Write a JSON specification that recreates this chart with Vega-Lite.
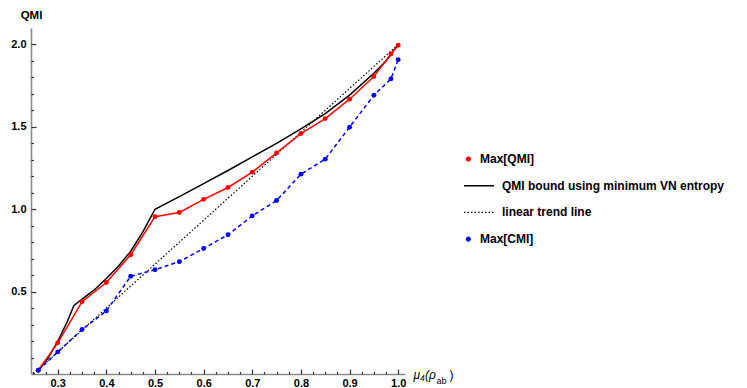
{
  "$schema": "https://vega.github.io/schema/vega-lite/v6.json",
  "width": 374,
  "height": 346,
  "autosize": "none",
  "padding": {"left": 31, "top": 28, "right": 342, "bottom": 14},
  "background": "white",
  "config": {"view": {"stroke": null}, "font": "Liberation Sans"},
  "datasets": {
    "trend": [
      {"mu": 0.25, "qmi": 0.0},
      {"mu": 1.0, "qmi": 2.0}
    ],
    "bound": [
      {"mu": 0.26, "qmi": 0.023},
      {"mu": 0.28, "qmi": 0.095},
      {"mu": 0.3, "qmi": 0.199},
      {"mu": 0.32, "qmi": 0.32},
      {"mu": 0.333, "qmi": 0.415},
      {"mu": 0.35, "qmi": 0.455},
      {"mu": 0.375, "qmi": 0.51},
      {"mu": 0.4, "qmi": 0.58},
      {"mu": 0.425, "qmi": 0.655},
      {"mu": 0.45, "qmi": 0.745},
      {"mu": 0.475, "qmi": 0.862},
      {"mu": 0.5, "qmi": 1.0},
      {"mu": 0.55, "qmi": 1.077},
      {"mu": 0.6, "qmi": 1.155},
      {"mu": 0.65, "qmi": 1.235},
      {"mu": 0.7, "qmi": 1.318},
      {"mu": 0.75, "qmi": 1.4},
      {"mu": 0.8, "qmi": 1.488},
      {"mu": 0.85, "qmi": 1.58},
      {"mu": 0.9, "qmi": 1.693},
      {"mu": 0.95, "qmi": 1.825},
      {"mu": 0.975, "qmi": 1.9},
      {"mu": 1.0, "qmi": 2.0}
    ],
    "maxqmi": [
      {"mu": 0.26, "qmi": 0.023},
      {"mu": 0.3, "qmi": 0.189},
      {"mu": 0.35, "qmi": 0.439},
      {"mu": 0.4, "qmi": 0.555},
      {"mu": 0.45, "qmi": 0.724},
      {"mu": 0.5, "qmi": 0.955},
      {"mu": 0.55, "qmi": 0.98},
      {"mu": 0.6, "qmi": 1.06},
      {"mu": 0.65, "qmi": 1.132},
      {"mu": 0.7, "qmi": 1.225},
      {"mu": 0.75, "qmi": 1.342},
      {"mu": 0.8, "qmi": 1.459},
      {"mu": 0.85, "qmi": 1.55},
      {"mu": 0.9, "qmi": 1.668},
      {"mu": 0.95, "qmi": 1.805},
      {"mu": 0.985, "qmi": 1.942},
      {"mu": 1.0, "qmi": 1.995}
    ],
    "maxcmi": [
      {"mu": 0.26, "qmi": 0.023},
      {"mu": 0.3, "qmi": 0.134},
      {"mu": 0.35, "qmi": 0.27},
      {"mu": 0.4, "qmi": 0.383},
      {"mu": 0.45, "qmi": 0.593},
      {"mu": 0.5, "qmi": 0.633},
      {"mu": 0.55, "qmi": 0.682},
      {"mu": 0.6, "qmi": 0.762},
      {"mu": 0.65, "qmi": 0.845},
      {"mu": 0.7, "qmi": 0.96},
      {"mu": 0.75, "qmi": 1.053},
      {"mu": 0.8, "qmi": 1.213},
      {"mu": 0.85, "qmi": 1.304},
      {"mu": 0.9, "qmi": 1.498},
      {"mu": 0.95, "qmi": 1.692},
      {"mu": 0.985, "qmi": 1.791},
      {"mu": 1.0, "qmi": 1.908}
    ]
  },
  "layer": [
    {
      "data": {"name": "trend"},
      "mark": {"type": "line", "strokeWidth": 1.2, "strokeDash": [1.5, 2]},
      "encoding": {
        "x": {
          "field": "mu", "type": "quantitative",
          "scale": {"domain": [0.245, 1.014], "nice": false, "zero": false},
          "axis": {
            "orient": "bottom",
            "values": [0.3, 0.4, 0.5, 0.6, 0.7, 0.8, 0.9, 1.0],
            "format": ".1f",
            "labelOverlap": false,
            "labelFlush": false,
            "labelFont": "Liberation Sans",
            "labelFontSize": 11,
            "labelFontWeight": "bold",
            "labelColor": "#000000",
            "labelPadding": 3,
            "grid": false,
            "domainColor": "#8a8a8a",
            "domainWidth": 1.6,
            "ticks": false,
            "title": "μ₄(ρ",
            "titleFont": "Liberation Sans",
            "titleFontSize": 12,
            "titleFontStyle": "italic",
            "titleFontWeight": "normal",
            "titleColor": "#000000",
            "titleAlign": "left",
            "titleBaseline": "middle",
            "titleX": 382,
            "titleY": 0
          }
        },
        "y": {
          "field": "qmi", "type": "quantitative",
          "scale": {"domain": [0, 2.1], "nice": false, "zero": false},
          "axis": {
            "orient": "left",
            "values": [0.5, 1.0, 1.5, 2.0],
            "format": ".1f",
            "labelOverlap": false,
            "labelFlush": false,
            "labelFont": "Liberation Sans",
            "labelFontSize": 11,
            "labelFontWeight": "bold",
            "labelColor": "#000000",
            "labelPadding": 5,
            "grid": false,
            "domainColor": "#8a8a8a",
            "domainWidth": 1.6,
            "ticks": false,
            "title": "QMI",
            "titleFont": "Liberation Sans",
            "titleFontSize": 11.5,
            "titleFontWeight": "bold",
            "titleColor": "#000000",
            "titleAngle": 0,
            "titleAlign": "center",
            "titleBaseline": "middle",
            "titleX": 0,
            "titleY": -13
          }
        },
        "color": {
          "datum": "linear trend line",
          "type": "nominal",
          "scale": {
            "domain": ["Max[QMI]", "QMI bound using minimum VN entropy", "linear trend line", "Max[CMI]"],
            "range": ["#ff0000", "#000000", "#000000", "#0000ff"]
          },
          "legend": {
            "title": null,
            "orient": "none",
            "legendX": 442,
            "legendY": 125,
            "padding": 0,
            "symbolSize": 900,
            "symbolType": "stroke",
            "rowPadding": 14.7,
            "labelOffset": 17,
            "labelFont": "Liberation Sans",
            "labelFontSize": 12,
            "labelFontWeight": "bold",
            "labelColor": "#000000",
            "labelLimit": 400,
            "encode": {
              "symbols": {
                "update": {
                  "shape": {"signal": "(datum.value === 'Max[QMI]' || datum.value === 'Max[CMI]') ? 'M -0.83 0 a 0.12 0.12 0 1 0 0.24 0 a 0.12 0.12 0 1 0 -0.24 0 Z' : 'stroke'"},
                  "size": {"value": 900},
                  "fill": {"signal": "datum.value === 'Max[QMI]' ? '#ff0000' : (datum.value === 'Max[CMI]' ? '#0000ff' : 'transparent')"},
                  "stroke": {"signal": "(datum.value === 'Max[QMI]' || datum.value === 'Max[CMI]') ? 'transparent' : '#000000'"},
                  "strokeDash": {"signal": "datum.value === 'linear trend line' ? [1.5, 2] : [1, 0]"},
                  "strokeWidth": {"signal": "datum.value === 'linear trend line' ? 1.2 : 1.5"},
                  "opacity": {"value": 1}
                }
              },
              "labels": {
                "update": {
                  "dx": {"signal": "(datum.value === 'Max[QMI]' || datum.value === 'Max[CMI]') ? -22 : 0"}
                }
              }
            }
          }
        }
      }
    },
    {
      "data": {"name": "bound"},
      "mark": {"type": "line", "strokeWidth": 1.5},
      "encoding": {
        "x": {
          "field": "mu", "type": "quantitative",
          "scale": {"domain": [0.245, 1.014], "nice": false, "zero": false},
          "axis": {
            "orient": "bottom",
            "values": [0.3, 0.4, 0.5, 0.6, 0.7, 0.8, 0.9, 1.0],
            "domain": false, "labels": false, "grid": false,
            "ticks": true, "tickSize": -5, "tickColor": "#333333", "tickWidth": 1.2,
            "title": "ab",
            "titleFont": "Liberation Sans",
            "titleFontSize": 9,
            "titleFontWeight": "normal",
            "titleColor": "#000000",
            "titleAlign": "left",
            "titleBaseline": "middle",
            "titleX": 405,
            "titleY": 6
          }
        },
        "y": {
          "field": "qmi", "type": "quantitative",
          "axis": {
            "orient": "left",
            "values": [0.5, 1.0, 1.5, 2.0],
            "domain": false, "labels": false, "grid": false, "title": null,
            "ticks": true, "tickSize": -5, "tickColor": "#333333", "tickWidth": 1.2
          }
        },
        "color": {"datum": "QMI bound using minimum VN entropy", "type": "nominal"}
      }
    },
    {
      "data": {"name": "maxqmi"},
      "mark": {"type": "line", "strokeWidth": 1.5, "point": {"filled": true, "size": 24, "opacity": 1}},
      "encoding": {
        "x": {
          "field": "mu", "type": "quantitative",
          "scale": {"domain": [0.245, 1.014], "nice": false, "zero": false},
          "axis": {
            "orient": "bottom",
            "values": [0.25, 0.275, 0.325, 0.35, 0.375, 0.425, 0.45, 0.475, 0.525, 0.55, 0.575, 0.625, 0.65, 0.675, 0.725, 0.75, 0.775, 0.825, 0.85, 0.875, 0.925, 0.95, 0.975],
            "domain": false, "labels": false, "grid": false,
            "ticks": true, "tickSize": -2.5, "tickColor": "#333333", "tickWidth": 1.2,
            "title": ")",
            "titleFont": "Liberation Sans",
            "titleFontSize": 12,
            "titleFontWeight": "normal",
            "titleColor": "#000000",
            "titleAlign": "left",
            "titleBaseline": "middle",
            "titleX": 418,
            "titleY": 0
          }
        },
        "y": {
          "field": "qmi", "type": "quantitative",
          "axis": {
            "orient": "left",
            "values": [0.1, 0.2, 0.3, 0.4, 0.6, 0.7, 0.8, 0.9, 1.1, 1.2, 1.3, 1.4, 1.6, 1.7, 1.8, 1.9],
            "domain": false, "labels": false, "grid": false, "title": null,
            "ticks": true, "tickSize": -2.5, "tickColor": "#333333", "tickWidth": 1.2
          }
        },
        "color": {"datum": "Max[QMI]", "type": "nominal"}
      }
    },
    {
      "data": {"name": "maxcmi"},
      "mark": {"type": "line", "strokeWidth": 1.5, "strokeDash": [4, 3], "point": {"filled": true, "size": 24, "opacity": 1}},
      "encoding": {
        "x": {
          "field": "mu", "type": "quantitative",
          "scale": {"domain": [0.245, 1.014], "nice": false, "zero": false},
          "axis": null
        },
        "y": {"field": "qmi", "type": "quantitative", "axis": null},
        "color": {"datum": "Max[CMI]", "type": "nominal"}
      }
    }
  ],
  "resolve": {"axis": {"x": "independent", "y": "independent"}}
}
